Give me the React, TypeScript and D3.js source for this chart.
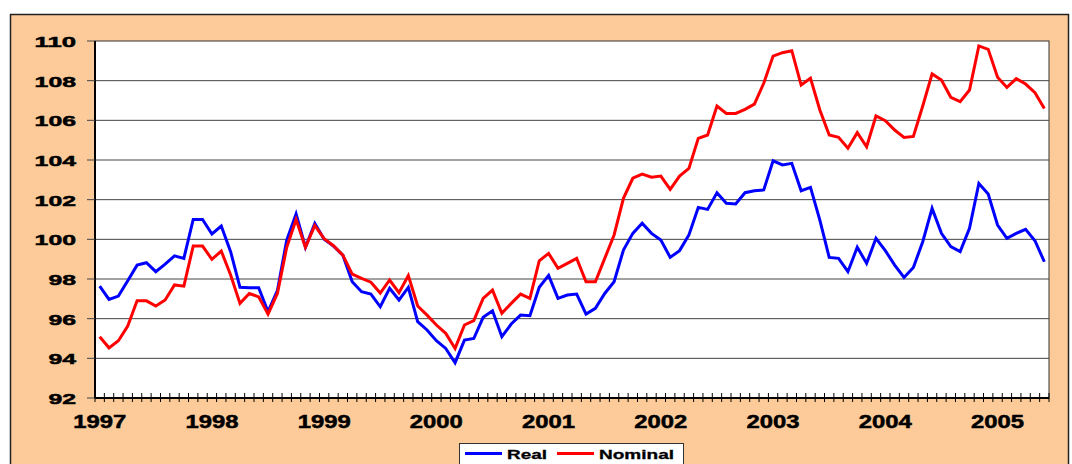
import * as d3 from "d3";

// monthly index values, Jan 1997 - Jun 2005
const realValues = [
  97.64, 96.97, 97.14, 97.91, 98.7, 98.82, 98.37, 98.75, 99.17, 99.04, 101.0, 101.0,
  100.27, 100.67, 99.38, 97.58, 97.56, 97.56, 96.35, 97.41, 99.96, 101.28, 99.6, 100.8,
  100.0, 99.66, 99.2, 97.86, 97.36, 97.24, 96.6, 97.53, 96.94, 97.58, 95.85, 95.43,
  94.89, 94.5, 93.78, 94.92, 95.0, 96.07, 96.4, 95.09, 95.73, 96.18, 96.15, 97.58,
  98.18, 97.02, 97.19, 97.24, 96.23, 96.52, 97.27, 97.86, 99.46, 100.3, 100.81, 100.3,
  99.96, 99.09, 99.43, 100.22, 101.61, 101.51, 102.35, 101.82, 101.78, 102.35, 102.45, 102.49,
  103.96, 103.75, 103.83, 102.45, 102.62, 100.97, 99.09, 99.04, 98.37, 99.6, 98.79, 100.05,
  99.43, 98.7, 98.08, 98.58, 99.88, 101.56, 100.3, 99.63, 99.38, 100.55, 102.82, 102.28,
  100.72, 100.05, 100.3, 100.5, 99.93, 98.87,
];

const nominalValues = [
  95.09, 94.53, 94.89, 95.63, 96.9, 96.9, 96.64, 96.94, 97.7, 97.64, 99.66, 99.66,
  98.99, 99.41, 98.2, 96.77, 97.27, 97.1, 96.23, 97.27, 99.6, 101.0, 99.6, 100.7,
  100.03, 99.68, 99.2, 98.25, 98.03, 97.84, 97.29, 97.95, 97.31, 98.17, 96.64, 96.18,
  95.68, 95.26, 94.5, 95.68, 95.9, 97.02, 97.44, 96.27, 96.77, 97.24, 97.02, 98.92,
  99.29, 98.54, 98.79, 99.04, 97.86, 97.86, 99.04, 100.22, 102.07, 103.08, 103.29, 103.13,
  103.19, 102.52, 103.19, 103.58, 105.09, 105.26, 106.72, 106.35, 106.35, 106.55, 106.82, 107.87,
  109.24, 109.41, 109.51, 107.78, 108.12, 106.52, 105.26, 105.14, 104.59, 105.38, 104.67, 106.22,
  105.98, 105.51, 105.14, 105.19, 106.72, 108.34, 108.03, 107.16, 106.94, 107.53, 109.75, 109.58,
  108.17, 107.66, 108.1, 107.83, 107.39, 106.6,
];

const yearLabels = ["1997", "1998", "1999", "2000", "2001", "2002", "2003", "2004", "2005"];
const yTicks = [92, 94, 96, 98, 100, 102, 104, 106, 108, 110];

const seriesList = [
  { label: "Real", values: realValues, color: "#0000ff" },
  { label: "Nominal", values: nominalValues, color: "#ff0000" },
];

const months = d3.range(realValues.length);

const W = 1072;
const H = 464;
const plot = { left: 95, top: 41, right: 1049, bottom: 398 };
const font = "'Liberation Sans', Arial, sans-serif";

export default function App() {
  const x = d3
    .scaleBand<number>()
    .domain(months)
    .range([plot.left, plot.right])
    .paddingInner(0)
    .paddingOuter(0);

  const y = d3.scaleLinear().domain([92, 110]).range([plot.bottom, plot.top]);

  const cx = (i: number) => (x(i) || 0) + x.bandwidth() / 2;

  const line = d3
    .line<number>()
    .x((_, i) => cx(i))
    .y((d) => y(d));

  // category boundaries for the small month ticks
  const boundaries = d3.range(months.length + 1).map((k) => plot.left + k * x.bandwidth());

  return (
    <svg
      width={W}
      height={H}
      style={{ position: "absolute", left: 0, top: 0, display: "block" }}
    >
      <rect x={0} y={0} width={W} height={H} fill="#ffffff" />
      {/* chart area frame */}
      <rect x={10.5} y={14.5} width={1058} height={470} fill="#fccb99" stroke="#222" strokeWidth={1.5} />

      {/* plot area */}
      <rect
        x={plot.left}
        y={plot.top}
        width={plot.right - plot.left}
        height={plot.bottom - plot.top}
        fill="#ffffff"
        stroke="#333"
        strokeWidth={1}
      />

      {/* gridlines */}
      {yTicks
        .filter((t) => t !== 92 && t !== 110)
        .map((t) => (
          <line
            key={"g" + t}
            x1={plot.left}
            x2={plot.right}
            y1={y(t)}
            y2={y(t)}
            stroke="#444"
            strokeWidth={1}
          />
        ))}

      {/* y axis */}
      <line x1={plot.left} x2={plot.left} y1={plot.top} y2={plot.bottom} stroke="#000" strokeWidth={2} />
      {yTicks.map((t) => (
        <g key={"y" + t}>
          <line x1={plot.left - 8} x2={plot.left} y1={y(t)} y2={y(t)} stroke="#444" strokeWidth={1} />
          <text
            x={76}
            y={y(t) + 6}
            textAnchor="end"
            fontFamily={font}
            fontWeight="bold"
            fontSize={15.5}
            textLength={String(t).length * 13.8}
            lengthAdjust="spacingAndGlyphs"
            fill="#000"
            stroke="#000"
            strokeWidth={0.5}
          >
            {t}
          </text>
        </g>
      ))}

      {/* x axis */}
      <line x1={plot.left} x2={plot.right} y1={plot.bottom} y2={plot.bottom} stroke="#000" strokeWidth={2} />
      {boundaries.map((bx, k) => (
        <line key={"t" + k} x1={bx} x2={bx} y1={plot.bottom - 5} y2={plot.bottom + 4} stroke="#000" strokeWidth={1} />
      ))}
      {yearLabels.map((label, j) => (
        <text
          key={label}
          x={cx(j * 12)}
          y={427.5}
          textAnchor="middle"
          fontFamily={font}
          fontWeight="bold"
          fontSize={18}
          textLength={53}
          lengthAdjust="spacingAndGlyphs"
          fill="#000"
          stroke="#000"
          strokeWidth={0.5}
        >
          {label}
        </text>
      ))}

      {/* series */}
      {seriesList.map((s) => (
        <path
          key={s.label}
          d={line(s.values) || ""}
          fill="none"
          stroke={s.color}
          strokeWidth={3}
          strokeLinejoin="miter"
        />
      ))}

      {/* legend */}
      <rect x={459.5} y={443.5} width={224} height={30} fill="#ffffff" stroke="#333" strokeWidth={1} />
      <line x1={465} x2={502} y1={453.5} y2={453.5} stroke={seriesList[0].color} strokeWidth={3} />
      <text x={507} y={459} fontFamily={font} fontWeight="bold" fontSize={13} textLength={40} lengthAdjust="spacingAndGlyphs" stroke="#000" strokeWidth={0.3}>
        {seriesList[0].label}
      </text>
      <line x1={557} x2={594} y1={453.5} y2={453.5} stroke={seriesList[1].color} strokeWidth={3} />
      <text x={599} y={459} fontFamily={font} fontWeight="bold" fontSize={13} textLength={75} lengthAdjust="spacingAndGlyphs" stroke="#000" strokeWidth={0.3}>
        {seriesList[1].label}
      </text>
    </svg>
  );
}
